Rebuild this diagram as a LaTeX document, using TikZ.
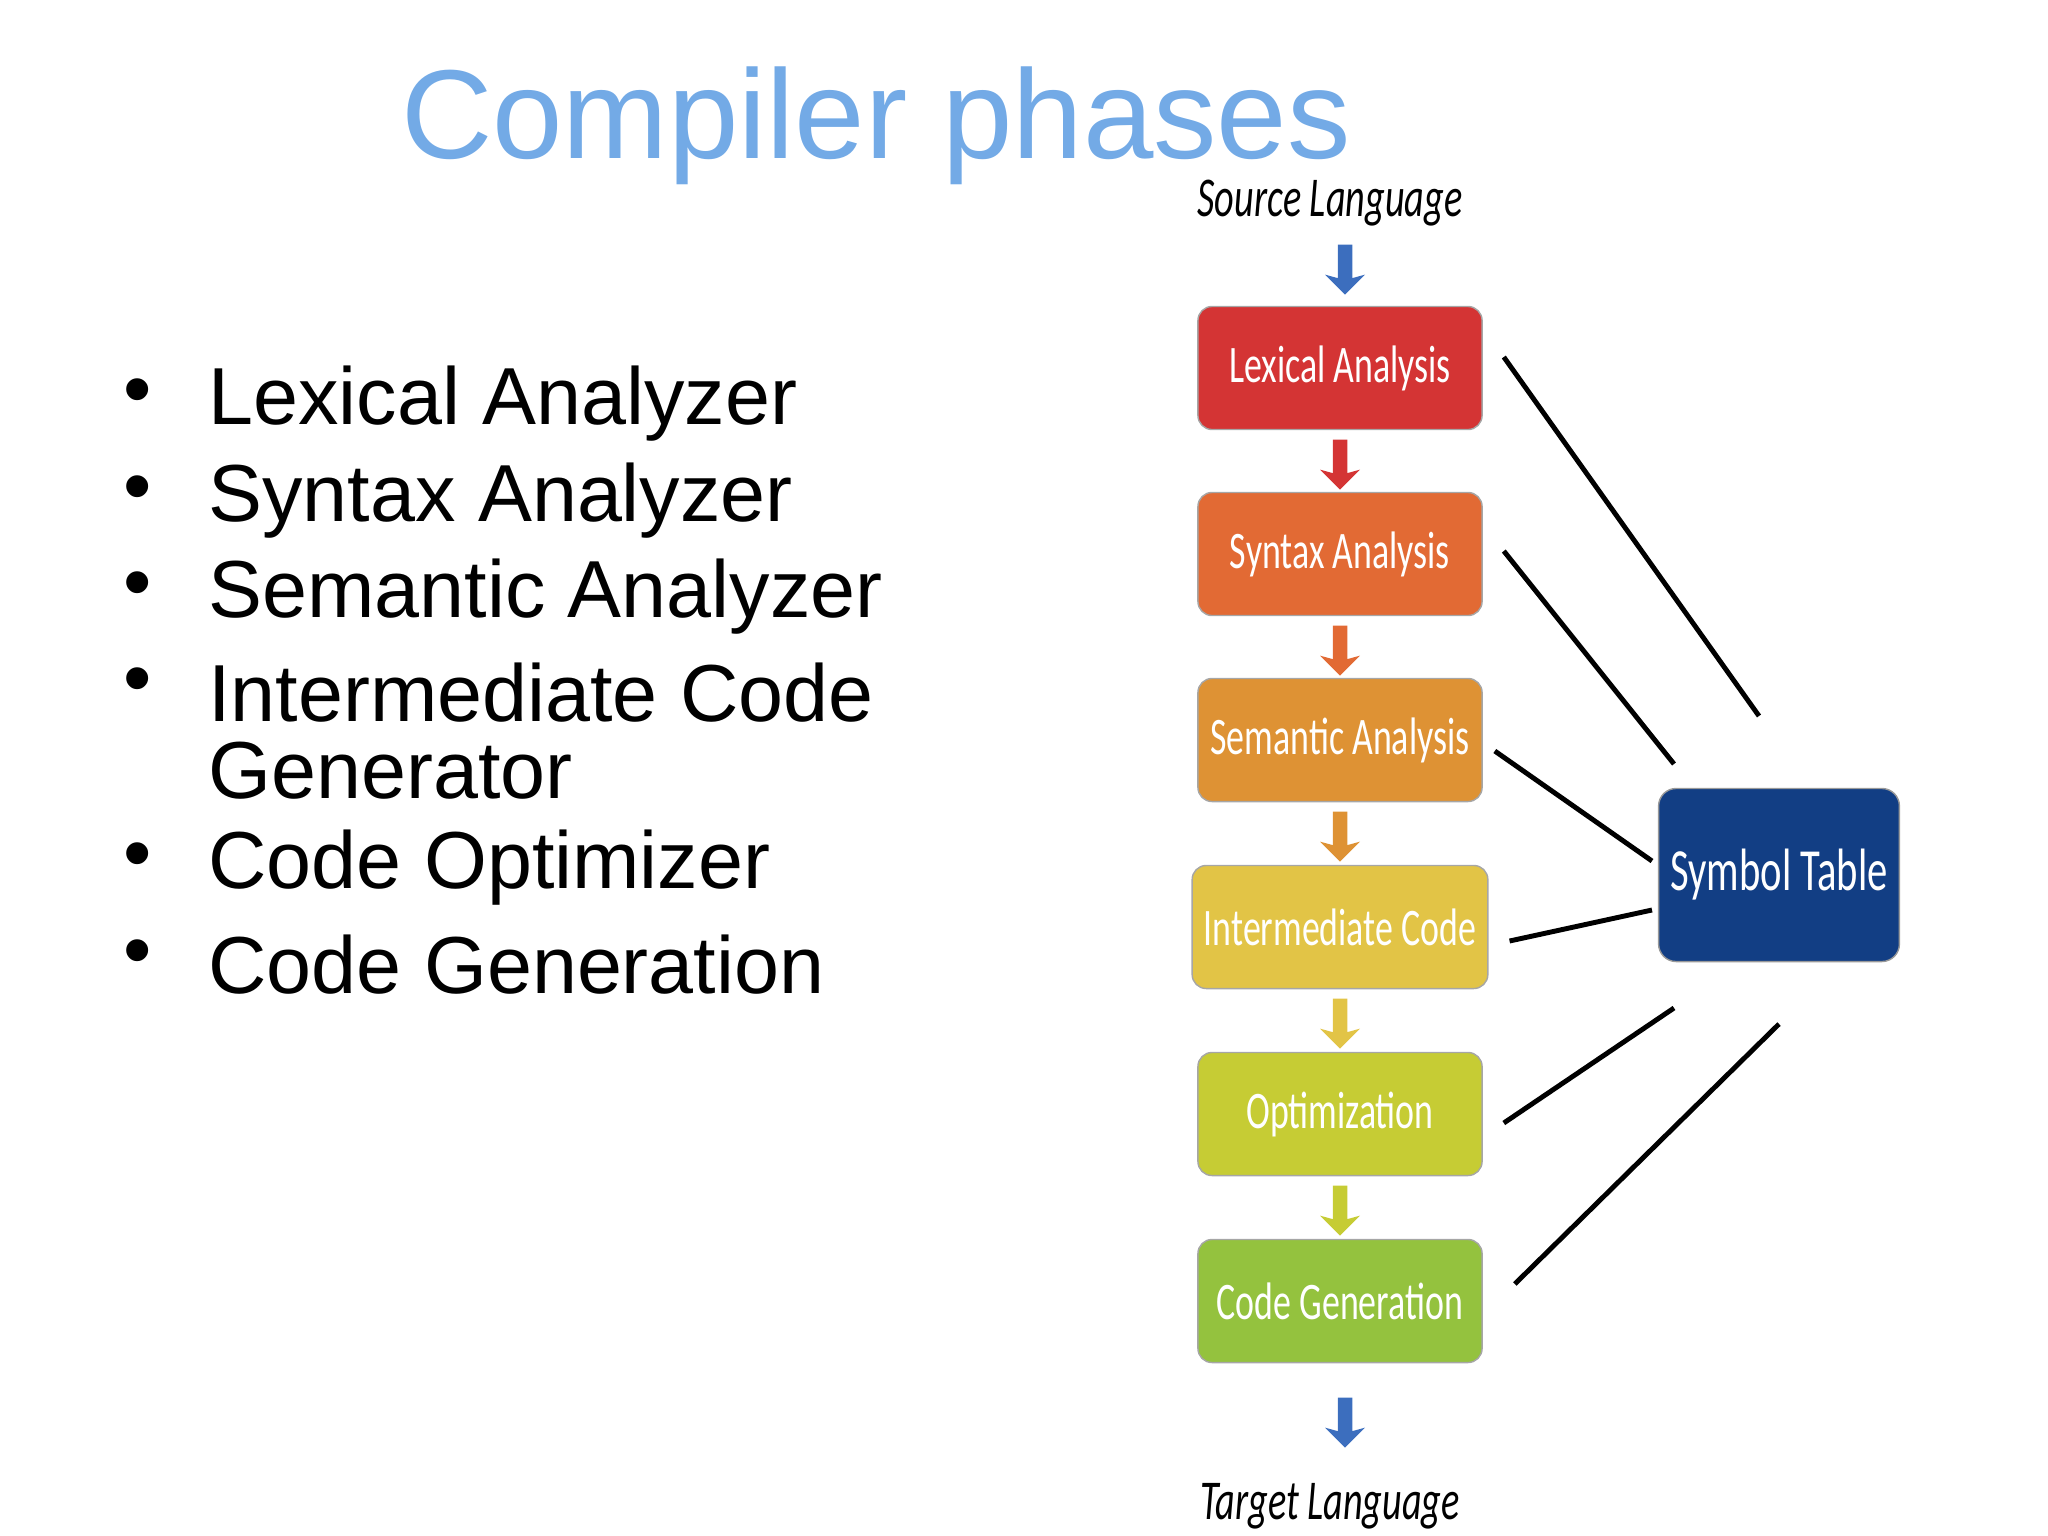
\documentclass[tikz,border=0pt]{standalone}
\usepackage{fontspec}
\setmainfont{Liberation Sans}
\newfontfamily\boxfont{Carlito}[FakeStretch=0.68]
\usepackage{xcolor}
\usetikzlibrary{calc}
\usetikzlibrary{shapes.arrows}
\usetikzlibrary{positioning}
\definecolor{titleblue}{RGB}{115,170,230}
\definecolor{phaseA}{RGB}{212,52,52}
\definecolor{phaseB}{RGB}{226,106,52}
\definecolor{phaseC}{RGB}{222,146,52}
\definecolor{phaseD}{RGB}{226,196,70}
\definecolor{phaseE}{RGB}{198,204,52}
\definecolor{phaseF}{RGB}{148,194,62}
\definecolor{symblue}{RGB}{18,62,132}
\definecolor{arrblue}{RGB}{60,110,190}

\begin{document}
\begin{tikzpicture}[x=0.01cm,y=-0.01cm]
			\tikzset{phase/.style={shape=rectangle, rounded corners=4pt, draw=black!35, fill=#1, text=white, minimum width=2.84cm, minimum height=1.23cm, font=\boxfont\fontsize{15}{15}\selectfont}}
			\tikzset{flow/.style={single arrow, fill=#1, draw=none, shape border rotate=270, minimum height=0.5cm, minimum width=0.4cm, single arrow head extend=3pt, single arrow head indent=1pt, inner sep=1.5pt}}
			\tikzset{link/.style={line width=1.4pt}}
			\tikzset{item/.style={anchor=west, font=\fontsize{23}{23}\selectfont}}
			\useasboundingbox (0,0) rectangle (2048,1536);
			\node[text=titleblue, font=\fontsize{36}{36}\selectfont] (title) at (876,126) {Compiler phases};
			% bullet list
			\foreach \y/\t in {404/Lexical Analyzer, 501/Syntax Analyzer, 597/Semantic Analyzer, 693/Intermediate Code, 868/Code Optimizer, 965/Code Generation}{
				\node[font=\fontsize{23}{23}\selectfont] at (138,\y-6) {\textbullet};
				\node[item] at (196,\y) {\t};}
			\node[item] (gen) at (196,771) {Generator};
			% phases
			\node[phase=phaseA] (lex) at (1340,368) {Lexical Analysis};
			\node[phase=phaseB] (syn) at (1340,554) {Syntax Analysis};
			\node[phase=phaseC] (sem) at (1340,740) {Semantic Analysis};
			\node[phase=phaseD] (icg) at (1340,927) {Intermediate Code};
			\node[phase=phaseE] (opt) at (1340,1114) {Optimization};
			\node[phase=phaseF] (cg) at (1340,1301) {Code Generation};
			\node[shape=rectangle, rounded corners=5pt, draw=black!40, fill=symblue, text=white, minimum width=2.32cm, minimum height=1.73cm, font=\boxfont\fontsize{17}{17}\selectfont] (sym) at (1779,875) {Symbol Table};
			\node[font=\boxfont\itshape\fontsize{16}{16}\selectfont] (src) at (1330,203) {Source Language};
			\node[font=\boxfont\itshape\fontsize{16}{16}\selectfont] (tgt) at (1330,1506) {Target Language};
			% block arrows
			\node[flow=arrblue] at (1345,266) {};
			\node[flow=phaseA] at (1340,461) {};
			\node[flow=phaseB] at (1340,647) {};
			\node[flow=phaseC] at (1340,833) {};
			\node[flow=phaseD] at (1340,1020) {};
			\node[flow=phaseE] at (1340,1207) {};
			\node[flow=arrblue] at (1345,1419) {};
			% links to symbol table
			\coordinate (s1) at (1759,716);
			\coordinate (s2) at (1674,764);
			\coordinate (s3) at (1652,861);
			\coordinate (s4) at (1652,910);
			\coordinate (s5) at (1674,1008);
			\coordinate (s6) at (1779,1024);
			\draw[link] ($(lex.east)+(21,-11)$) -- (s1);
			\draw[link] ($(syn.east)+(21,-3)$) -- (s2);
			\draw[link] ($(sem.east)+(12,11)$) -- (s3);
			\draw[link] ($(icg.east)+(21,14)$) -- (s4);
			\draw[link] ($(opt.east)+(21,9)$) -- (s5);
			\draw[link] ($(cg.east)+(32,-17)$) -- (s6);
		\end{tikzpicture}
\end{document}
